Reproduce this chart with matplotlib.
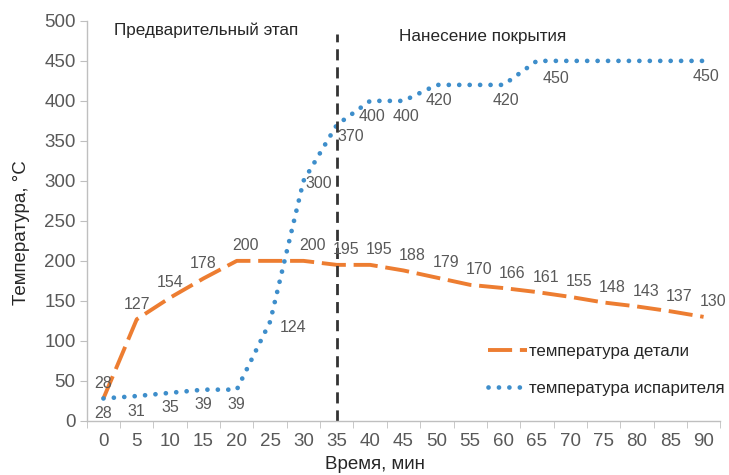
import numpy as np
import matplotlib
matplotlib.use("Agg")
import matplotlib.pyplot as plt

plt.rcParams['font.family'] = ['Liberation Sans', 'DejaVu Sans']

TIME = [0, 5, 10, 15, 20, 25, 30, 35, 40, 45, 50, 55, 60, 65, 70, 75, 80, 85, 90]
T_PART = [28, 127, 154, 178, 200, 200, 200, 195, 195, 188, 179, 170, 166, 161, 155, 148, 143, 137, 130]
T_EVAP = [28, 31, 35, 39, 39, 124, 300, 370, 400, 400, 420, 420, 420, 450, 450, 450, 450, 450, 450]

# какие точки подписаны
PART_LABELED = [0, 5, 10, 15, 20, 30, 35, 40, 45, 50, 55, 60, 65, 70, 75, 80, 85, 90]
EVAP_LABELED = [0, 5, 10, 15, 20, 25, 30, 35, 40, 45, 50, 60, 65, 90]

STAGE_SPLIT = 35
ORANGE = "#ED7D31"
BLUE = "#3E8ECB"
GREY = "#595959"

fig = plt.figure(figsize=(7.29, 4.75), dpi=100)
ax = fig.add_axes([0.119, 0.114, 0.869, 0.842])

ax.plot(TIME, T_PART, color=ORANGE, linewidth=2.8, linestyle=(0, (6.2, 2)),
        label="температура детали")
ax.plot(TIME, T_EVAP, color=BLUE, linewidth=3.4, linestyle=(0, (0.01, 2.2)),
        dash_capstyle='round', label="температура испарителя")

# подписи значений
for t, v in zip(TIME, T_PART):
    if t not in PART_LABELED:
        continue
    dx = 0 if t < 20 else 9
    ax.annotate(str(v), (t, v), xytext=(dx, 15), textcoords="offset pixels",
                ha="center", va="center", fontsize=11.5, color=GREY)

for t, v in zip(TIME, T_EVAP):
    if t not in EVAP_LABELED:
        continue
    if t <= 20:
        dx, dy = 0, -15
    elif t == 25:
        dx, dy = 23, -6
    elif t == 30:
        dx, dy = 15, -3
    elif t == 35:
        dx, dy = 14, -12
    elif t == 65:
        dx, dy = 19, -18
    else:
        dx, dy = 2, -16
    ax.annotate(str(v), (t, v), xytext=(dx, dy), textcoords="offset pixels",
                ha="center", va="center", fontsize=11.5, color=GREY)

# граница этапов
ax.plot([STAGE_SPLIT, STAGE_SPLIT], [0, 483], color="#333333", linewidth=2,
        linestyle=(0, (4, 2.5)), clip_on=False)
ax.text(15.4, 488, "Предварительный этап", ha="center", va="center",
        fontsize=12.3, color="#262626")
ax.text(56.8, 480, "Нанесение покрытия", ha="center", va="center",
        fontsize=12.3, color="#262626")

ax.set_xlim(-2.5, 92.5)
ax.set_ylim(0, 500)
ax.set_xticks(TIME)
ax.set_xticks(np.arange(-2.5, 93, 5), minor=True)
ax.set_yticks(np.arange(0, 501, 50))
ax.tick_params(axis='x', which='major', length=0, pad=9, labelsize=13.5, labelcolor=GREY)
ax.tick_params(axis='x', which='minor', length=5, color="#bfbfbf", direction='out')
ax.tick_params(axis='y', length=5, color="#bfbfbf", labelsize=13.5, labelcolor=GREY, pad=3)

for side in ("top", "right"):
    ax.spines[side].set_visible(False)
for side in ("left", "bottom"):
    ax.spines[side].set_color("#bfbfbf")
    ax.spines[side].set_linewidth(1)

ax.set_xlabel("Время, мин", fontsize=13.5, color="#262626")
ax.set_ylabel("Температура, °C", fontsize=13.5, color="#262626")
ax.xaxis.set_label_coords(0.455, -0.088)
ax.yaxis.set_label_coords(-0.09, 0.47)

ax.legend(loc="lower right", bbox_to_anchor=(1.031, 0.025), frameon=False,
          fontsize=12.2, handlelength=2.3, handletextpad=0.1, labelspacing=1.25,
          labelcolor="#262626")

fig.savefig("out.png", dpi=100)
